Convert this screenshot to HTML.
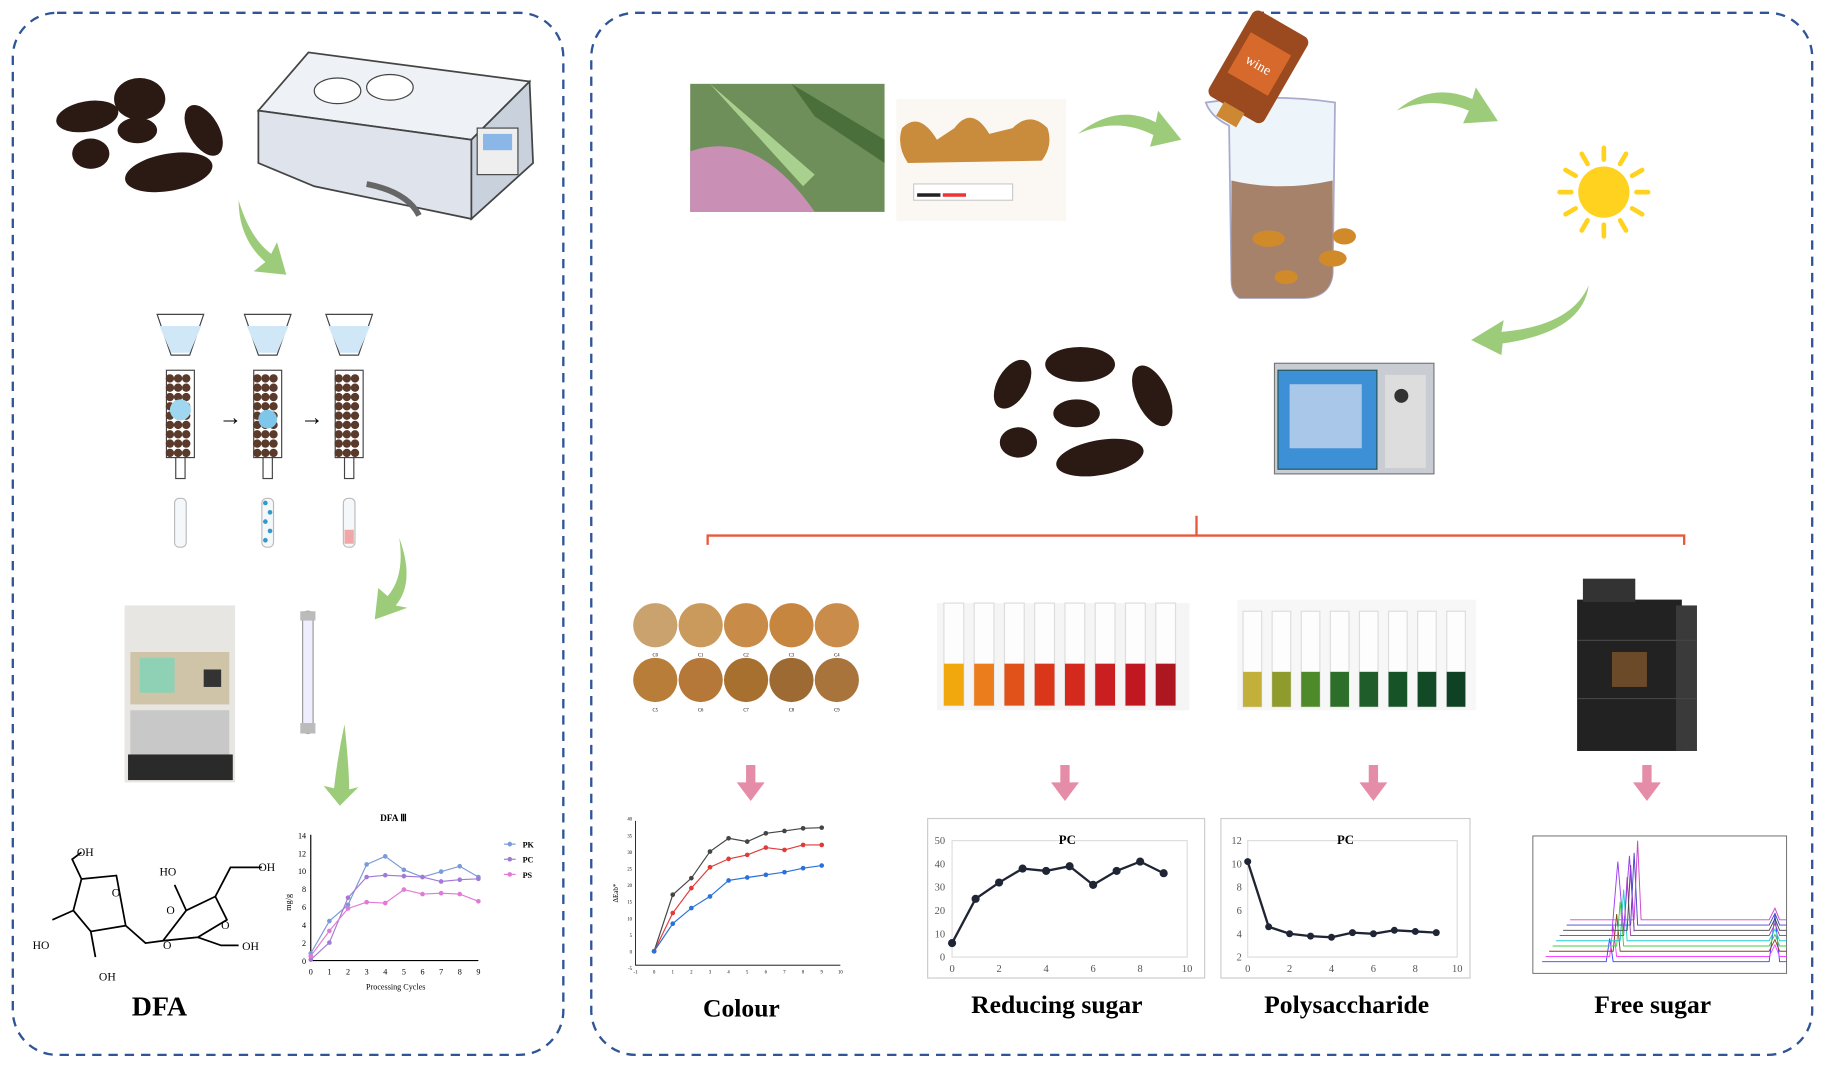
<!DOCTYPE html>
<html><head><meta charset="utf-8"><style>
html,body{margin:0;padding:0;background:#fff;width:1825px;height:1070px;overflow:hidden}
svg{display:block}
text{font-family:"Liberation Serif",serif}
</style></head><body>
<svg id="s" width="1825" height="1070" viewBox="0 0 1568 919" preserveAspectRatio="none" xmlns="http://www.w3.org/2000/svg">
<!-- frames -->
<rect x="11" y="11" width="473" height="895" rx="38" fill="none" stroke="#2f5597" stroke-width="2" stroke-dasharray="8,6"/>
<rect x="508" y="11" width="1049" height="895" rx="38" fill="none" stroke="#2f5597" stroke-width="2" stroke-dasharray="8,6"/>

<g fill="#2b1a14">
<ellipse cx="75" cy="100" rx="27" ry="13" transform="rotate(-10 75 100)"/>
<ellipse cx="120" cy="85" rx="22" ry="18"/>
<ellipse cx="175" cy="112" rx="13" ry="24" transform="rotate(-30 175 112)"/>
<ellipse cx="118" cy="112" rx="17" ry="11"/>
<ellipse cx="78" cy="132" rx="16" ry="13"/>
<ellipse cx="145" cy="148" rx="38" ry="16" transform="rotate(-10 145 148)"/>
</g>
<!-- water bath -->
<polygon points="222,95 265,45 455,70 405,120" fill="#eef1f5" stroke="#444" stroke-width="1.5"/>
<polygon points="222,95 405,120 405,188 270,160 222,140" fill="#dfe4ec" stroke="#444" stroke-width="1.5"/>
<polygon points="405,120 455,70 458,140 405,188" fill="#c9d1dc" stroke="#444" stroke-width="1.5"/>
<ellipse cx="290" cy="78" rx="20" ry="11" fill="#fff" stroke="#444"/>
<ellipse cx="335" cy="75" rx="20" ry="11" fill="#fff" stroke="#444"/>
<rect x="410" y="110" width="35" height="40" fill="#eee" stroke="#444"/>
<rect x="415" y="115" width="25" height="14" fill="#8ab6e8"/>
<path d="M315 158 Q350 165 360 185" stroke="#666" stroke-width="5" fill="none"/>

<g fill="#9ccc7a">
<path d="M205 172 Q215 205 233 218 L238 208 L246 236 L218 233 L228 225 Q205 205 205 172Z"/>
<path d="M343 462 Q357 500 340 520 L350 522 L322 532 L325 505 L333 512 Q348 495 343 462Z"/>
<path d="M296 622 Q300 660 300 678 L308 676 L292 692 L278 675 L287 677 Q290 650 296 622Z"/>
<path d="M926 115 Q960 88 993 105 L995 95 L1015 120 L988 126 L991 116 Q960 100 926 115Z"/>
<path d="M1200 95 Q1230 70 1265 85 L1268 75 L1287 104 L1257 106 L1262 95 Q1230 82 1200 95Z"/>
<path d="M1365 245 Q1350 280 1290 285 L1292 275 L1264 292 L1290 305 L1291 295 Q1360 285 1365 245Z"/>
</g>

<g id="cols"></g>
<text x="188" y="365" font-size="20">→</text>
<text x="258" y="365" font-size="20">→</text>

<rect x="107" y="520" width="95" height="152" fill="#e8e6e2"/>
<rect x="112" y="560" width="85" height="45" fill="#cfc3a8"/>
<rect x="120" y="565" width="30" height="30" fill="#8fd1b4"/>
<rect x="112" y="610" width="85" height="40" fill="#c8c8c8"/>
<rect x="110" y="648" width="90" height="22" fill="#2a2a2a"/>
<rect x="175" y="575" width="15" height="15" fill="#333"/>
<rect x="260" y="525" width="9" height="105" rx="4" fill="#eef" stroke="#999"/>
<rect x="258" y="525" width="13" height="8" fill="#bbb"/><rect x="258" y="621" width="13" height="9" fill="#bbb"/>

<!-- DFA structure -->
<g stroke="#000" stroke-width="1.5" fill="none">
<path d="M70 755 L100 752 L108 795 L78 800 L63 782 Z"/>
<path d="M70 755 L62 738 L70 732"/>
<path d="M63 782 L45 790"/>
<path d="M78 800 L82 822"/>
<path d="M108 795 L125 810 L140 808 L160 782 L185 770 L195 790 L170 805 L140 808"/>
<path d="M160 782 L150 760"/>
<path d="M185 770 L198 745 L225 745"/>
<path d="M170 805 L190 812 L205 812"/>
</g>
<g font-family="Liberation Sans,sans-serif" font-size="10"><text x="66" y="735">OH</text><text x="28" y="815">HO</text><text x="85" y="842">OH</text><text x="137" y="752">HO</text><text x="222" y="748">OH</text><text x="208" y="816">OH</text><text x="96" y="770">O</text><text x="140" y="815">O</text><text x="190" y="798">O</text><text x="143" y="785">O</text></g>
<text x="137" y="872" font-size="24" font-weight="bold" text-anchor="middle">DFA</text>

<g id="dfachart"></g>

<rect x="593" y="72" width="167" height="110" fill="#6f8f5a"/>
<path d="M593 130 Q650 110 700 182 L593 182Z" fill="#c98fb5"/>
<path d="M610 72 L700 150 L690 160 Z" fill="#a9d08e"/>
<path d="M680 72 L760 120 L760 140 L700 100 Z" fill="#4b6f3a"/>
<rect x="770" y="85" width="146" height="105" fill="#fbf8f4"/>
<path d="M775 110 Q790 95 805 120 L820 110 Q835 90 850 115 L870 110 Q885 95 900 110 Q905 125 895 138 L780 140 Q770 125 775 110Z" fill="#c98b3c"/>
<rect x="785" y="158" width="85" height="14" fill="#fff" stroke="#ccc"/>
<rect x="788" y="166" width="20" height="3" fill="#222"/><rect x="810" y="166" width="20" height="3" fill="#e33"/>

<!-- beaker -->
<path d="M1036 88 Q1090 80 1147 88 L1145 235 Q1143 255 1120 256 L1065 256 Q1058 252 1058 240 L1056 108 Q1040 100 1036 88Z" fill="#eef5fa" stroke="#aac" stroke-width="1.5"/>
<path d="M1058 155 Q1100 165 1145 155 L1145 235 Q1143 255 1120 256 L1065 256 Q1058 252 1058 240 Z" fill="#a7826b"/>
<g fill="#d08a2a"><ellipse cx="1090" cy="205" rx="14" ry="7"/><ellipse cx="1155" cy="203" rx="10" ry="7"/><ellipse cx="1145" cy="222" rx="12" ry="7"/><ellipse cx="1105" cy="238" rx="10" ry="6"/></g>
<g transform="rotate(30 1082 55)"><rect x="1055" y="15" width="55" height="85" rx="6" fill="#9a4a1e"/><rect x="1062" y="35" width="40" height="40" fill="#d8692c"/><text x="1070" y="60" font-size="12" fill="#fff" font-family="Liberation Sans,sans-serif">wine</text><rect x="1072" y="98" width="20" height="14" fill="#c83"/></g>

<circle cx="1378" cy="165" r="22" fill="#ffd21f"/>
<g stroke="#ffd21f" stroke-width="4" stroke-linecap="round" id="rays"></g>

<g fill="#2b1a14">
<ellipse cx="870" cy="330" rx="13" ry="23" transform="rotate(30 870 330)"/>
<ellipse cx="928" cy="313" rx="30" ry="15"/>
<ellipse cx="990" cy="340" rx="14" ry="28" transform="rotate(-25 990 340)"/>
<ellipse cx="925" cy="355" rx="20" ry="12"/>
<ellipse cx="875" cy="380" rx="16" ry="13"/>
<ellipse cx="945" cy="393" rx="38" ry="15" transform="rotate(-10 945 393)"/>
</g>
<rect x="1095" y="312" width="137" height="95" fill="#c9ccd2" stroke="#777"/>
<rect x="1098" y="318" width="85" height="85" fill="#3d8fd6" stroke="#255"/>
<rect x="1108" y="330" width="62" height="55" fill="#a9c7e8"/>
<rect x="1190" y="322" width="35" height="80" fill="#ddd"/>
<circle cx="1204" cy="340" r="6" fill="#333"/>

<g stroke="#e8583d" stroke-width="2" fill="none"><path d="M608 468 L608 460 L1447 460 L1447 468 M1028 460 L1028 443"/></g>

<g id="circ"></g>
<rect x="805" y="518" width="217" height="92" fill="#f5f5f5"/>
<g id="tubes1"></g>
<rect x="1063" y="515" width="205" height="95" fill="#f7f7f7"/>
<g id="tubes2"></g>
<rect x="1355" y="515" width="90" height="130" fill="#222"/>
<rect x="1440" y="520" width="18" height="125" fill="#3a3a3a"/>
<rect x="1360" y="497" width="45" height="20" fill="#333"/>
<rect x="1385" y="560" width="30" height="30" fill="#6b4a2a"/>
<line x1="1355" y1="550" x2="1458" y2="550" stroke="#444"/>
<line x1="1355" y1="600" x2="1458" y2="600" stroke="#444"/>

<g fill="#e58ca8" id="parr"></g>
<g id="charts"></g>

<g font-size="22" font-weight="bold" text-anchor="middle">
<text x="637" y="873">Colour</text>
<text x="908" y="870">Reducing sugar</text>
<text x="1157" y="870">Polysaccharide</text>
<text x="1420" y="870">Free sugar</text>
</g>
</svg>
<script>
var NS="http://www.w3.org/2000/svg";
function el(p,t,a,txt){var e=document.createElementNS(NS,t);for(var k in a)e.setAttribute(k,a[k]);if(txt!=null)e.textContent=txt;document.getElementById(p).appendChild(e);return e;}
for(var i=0;i<12;i++){var a=i*Math.PI/6,c=Math.cos(a),s=Math.sin(a);el("rays","line",{x1:1378+c*28,y1:165+s*28,x2:1378+c*38,y2:165+s*38});}
[[155,"#7fc7ea"],[230,"#f0b6c8"],[300,"#ccc"]].forEach(function(c,j){var x=c[0];
el("cols","path",{d:"M"+(x-20)+" 270 L"+(x+20)+" 270 L"+(x+8)+" 305 L"+(x-8)+" 305Z",fill:"#fff",stroke:"#444"});
el("cols","path",{d:"M"+(x-18)+" 280 L"+(x+18)+" 280 L"+(x+8)+" 303 L"+(x-8)+" 303Z",fill:"#cfe7f7"});
el("cols","rect",{x:x-12,y:318,width:24,height:75,fill:"#fff",stroke:"#444"});
for(var yy=325;yy<390;yy+=8)for(var xx=x-9;xx<x+10;xx+=7)el("cols","circle",{cx:xx,cy:yy,r:3.6,fill:"#5a3a2a"});
el("cols","rect",{x:x-4,y:393,width:8,height:18,fill:"#fff",stroke:"#444"});
el("cols","rect",{x:x-5,y:428,width:10,height:42,rx:4,fill:"#f4f8fb",stroke:"#bbb"});
if(j==1){el("cols","circle",{cx:x,cy:360,r:8,fill:"#7fc7ea"});for(var k=0;k<5;k++)el("cols","circle",{cx:x-2+k%2*4,cy:432+k*8,r:2,fill:"#39c"});}
if(j==0)el("cols","circle",{cx:x,cy:352,r:9,fill:"#9fd7f0"});
if(j==2)el("cols","rect",{x:x-4,y:455,width:8,height:12,fill:"#f1a7a7"});
});
var cc=["#c9a26e","#c99a5c","#c88b48","#c7863f","#c98c4a","#b97d3a","#b57838","#a7702f","#9c6a32","#a8743c"];
for(var i=0;i<10;i++){el("circ","circle",{cx:563+(i%5)*39,cy:i<5?537:584,r:19,fill:cc[i]});el("circ","text",{x:563+(i%5)*39,y:(i<5?537:584)+27,"font-size":4,"text-anchor":"middle"},"C"+i);}
var t1=["#f1a80d","#ec7d1c","#e0521a","#d9361a","#d42a1e","#c91f20","#c01720","#ad1820"];
t1.forEach(function(c,i){var x=811+i*26;el("tubes1","rect",{x:x,y:518,width:17,height:88,fill:"#fdfdfd",stroke:"#ddd"});el("tubes1","rect",{x:x,y:570,width:17,height:36,fill:c});});
var t2=["#c2b03a","#8f9b2c","#4e8a2a","#2c6e2a","#1f5e2a","#165428","#124a26","#0f4224"];
t2.forEach(function(c,i){var x=1068+i*25;el("tubes2","rect",{x:x,y:525,width:16,height:82,fill:"#fdfdfd",stroke:"#ddd"});el("tubes2","rect",{x:x,y:577,width:16,height:30,fill:c});});
[645,915,1180,1415].forEach(function(x){el("parr","path",{d:"M"+(x-4)+" 657 L"+(x+4)+" 657 L"+(x+4)+" 672 L"+(x+12)+" 672 L"+x+" 688 L"+(x-12)+" 672 L"+(x-4)+" 672Z"});});
function chart(g,x0,x1,y0,y1,xmin,xmax,ymin,ymax,series){
 series.forEach(function(s){var pts=s.d.map(function(v,i){return [x0+(i-xmin)/(xmax-xmin)*(x1-x0),y0-(v-ymin)/(ymax-ymin)*(y0-y1)];});
 el(g,"polyline",{points:pts.map(function(p){return p.join(",")}).join(" "),fill:"none",stroke:s.c,"stroke-width":s.w||1});
 pts.forEach(function(p){el(g,"circle",{cx:p[0],cy:p[1],r:s.r||2,fill:s.c});});});
}
el("dfachart","text",{x:338,y:705,"font-size":8,"font-weight":"bold","text-anchor":"middle"},"DFA Ⅲ");
el("dfachart","path",{d:"M267 717 L267 825 L411 825",stroke:"#000",fill:"none"});
for(var v=0;v<=14;v+=2){var y=825-v/14*108;el("dfachart","text",{x:263,y:y+3,"font-size":7,"text-anchor":"end","font-family":"Liberation Sans,sans-serif"},v);}
for(var v=0;v<=9;v++){el("dfachart","text",{x:267+v*16,y:837,"font-size":7,"text-anchor":"middle","font-family":"Liberation Sans,sans-serif"},v);}
el("dfachart","text",{x:340,y:850,"font-size":7,"text-anchor":"middle"},"Processing Cycles");
el("dfachart","text",{x:250,y:775,"font-size":7,transform:"rotate(-90 250 775)","text-anchor":"middle"},"mg/g");
chart("dfachart",267,411,825,717,0,9,0,14,[{d:[0.8,4.4,6.2,10.7,11.6,10.1,9.3,9.9,10.5,9.3],c:"#7b9bd8"},{d:[0.1,2,7,9.3,9.5,9.4,9.3,8.8,9,9.1],c:"#a27ad6"},{d:[0.5,3.3,5.8,6.5,6.4,7.9,7.4,7.5,7.4,6.6],c:"#e07ad6"}]);
[["PK","#7b9bd8",728],["PC","#a27ad6",741],["PS","#e07ad6",754]].forEach(function(l){el("dfachart","line",{x1:433,y1:l[2]-3,x2:443,y2:l[2]-3,stroke:l[1]});el("dfachart","circle",{cx:438,cy:l[2]-3,r:2,fill:l[1]});el("dfachart","text",{x:449,y:l[2],"font-size":7,"font-weight":"bold"},l[0]);});
// colour chart
el("charts","path",{d:"M546 705 L546 829 L722 829",stroke:"#000",fill:"none","stroke-width":0.7});
for(var v=-5;v<=40;v+=5){var y=817-v*107/37.5;el("charts","text",{x:543,y:y+2,"font-size":4,"text-anchor":"end","font-family":"Liberation Sans,sans-serif"},v);}
for(var v=-1;v<=10;v++){el("charts","text",{x:562+v*16,y:836,"font-size":4,"text-anchor":"middle","font-family":"Liberation Sans,sans-serif"},v);}
el("charts","text",{x:531,y:767,"font-size":6,transform:"rotate(-90 531 767)","text-anchor":"middle"},"ΔEab*");
chart("charts",562,706,817,710,0,9,0,37.5,[{d:[0,17,22,30,34,33,35.5,36.2,37,37.2],c:"#444"},{d:[0,11.5,19,25.3,27.8,29,31.2,30.5,32,32],c:"#e03a3a"},{d:[0,8.3,13,16.5,21.3,22.2,23,23.8,25,25.8],c:"#2a72d8"}]);
// reducing sugar
el("charts","rect",{x:797,y:703,width:238,height:137,fill:"none",stroke:"#ccc"});
el("charts","rect",{x:818,y:722,width:202,height:100,fill:"none",stroke:"#ddd"});
el("charts","text",{x:917,y:725,"font-size":11,"font-weight":"bold","text-anchor":"middle","font-family":"Liberation Sans,sans-serif"},"PC");
for(var v=0;v<=50;v+=10)el("charts","text",{x:812,y:822-v*2+3,"font-size":9,"text-anchor":"end",fill:"#555","font-family":"Liberation Sans,sans-serif"},v);
for(var v=0;v<=10;v+=2)el("charts","text",{x:818+v*20.2,y:835,"font-size":9,"text-anchor":"middle",fill:"#555","font-family":"Liberation Sans,sans-serif"},v);
chart("charts",818,1020,822,722,0,10,0,50,[{d:[6,25,32,38,37,39,31,37,41,36],c:"#1f2535",w:2,r:3.5}]);
// poly
el("charts","rect",{x:1049,y:703,width:214,height:137,fill:"none",stroke:"#ccc"});
el("charts","rect",{x:1072,y:722,width:180,height:100,fill:"none",stroke:"#ddd"});
el("charts","text",{x:1156,y:725,"font-size":11,"font-weight":"bold","text-anchor":"middle","font-family":"Liberation Sans,sans-serif"},"PC");
for(var v=2;v<=12;v+=2)el("charts","text",{x:1067,y:822-(v-2)*10+3,"font-size":9,"text-anchor":"end",fill:"#555","font-family":"Liberation Sans,sans-serif"},v);
for(var v=0;v<=10;v+=2)el("charts","text",{x:1072+v*18,y:835,"font-size":9,"text-anchor":"middle",fill:"#555","font-family":"Liberation Sans,sans-serif"},v);
chart("charts",1072,1252,822,722,0,10,2,12,[{d:[10.2,4.6,4,3.8,3.7,4.1,4,4.3,4.2,4.1],c:"#1f2535",w:2,r:3}]);
// free sugar
el("charts","rect",{x:1317,y:718,width:218,height:118,fill:"#fff",stroke:"#666","stroke-width":0.8});
var fc=["#3344ff","#ff44ff","#884422","#44cc44","#22cccc","#aa44aa","#444444","#4444cc","#cc44cc"];
fc.forEach(function(c,i){var b=826-i*4.5,o=i*3;var d="M"+(1325+o)+" "+b+" L"+(1380+o)+" "+b+" L"+(1383+o)+" "+(b-20-i*6)+" L"+(1386+o)+" "+b+" L"+(1520)+" "+b+" L1525 "+(b-(i==0?40:10))+" L1529 "+b+" L1535 "+b;el("charts","path",{d:d,fill:"none",stroke:c,"stroke-width":0.8});});
el("charts","path",{d:"M1385 800 L1390 740 L1395 800 M1395 800 L1400 735 L1404 800",fill:"none",stroke:"#9c3cf0","stroke-width":0.8});
</script>
</body></html>
